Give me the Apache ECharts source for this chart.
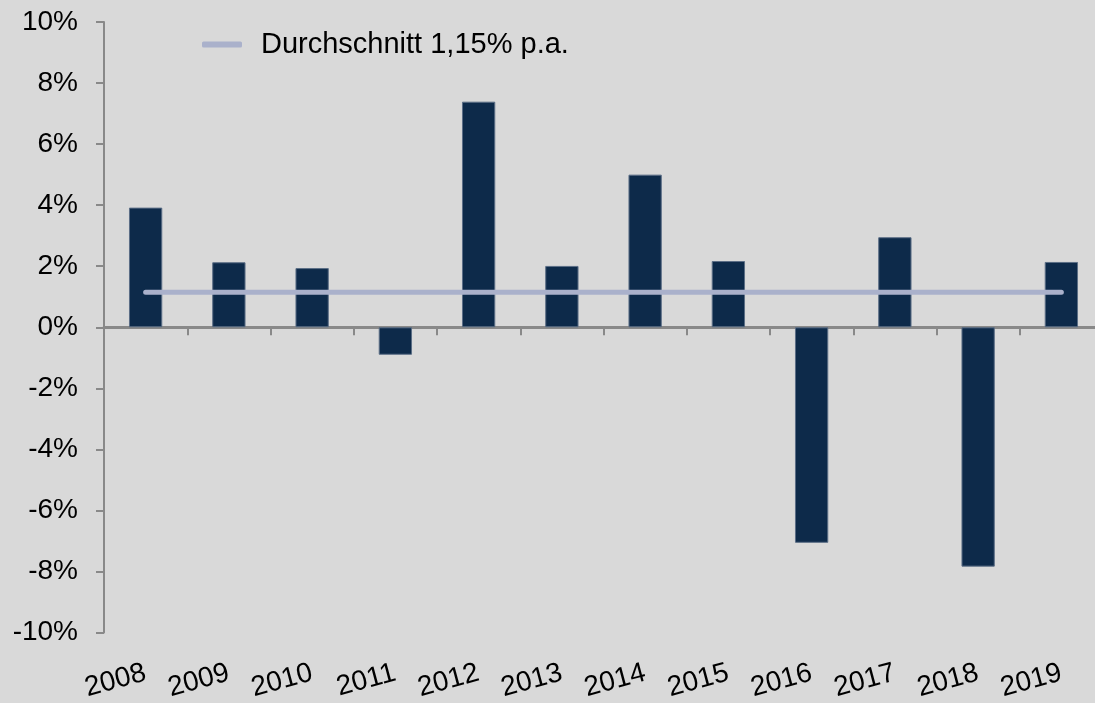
<!DOCTYPE html>
<html style="height: 100%">

<head>
  <meta charset="utf-8">
</head>

<body style="height: 100%; margin: 0; background: #d9d9d9; overflow: hidden">
  <!-- etwas breiter als das Fenster: die letzte Kategorie ragt in der Vorlage leicht über den Rand -->
  <div id="container" style="width: 1103px; height: 703px"></div>
  <script type="text/javascript" src="https://cdn.jsdelivr.net/npm/echarts@6/dist/echarts.min.js"></script>
  <script type="text/javascript">
    // Jahre und jährliche Rendite in %
    var years = ['2008', '2009', '2010', '2011', '2012', '2013', '2014', '2015', '2016', '2017', '2018', '2019'];
    var returns = [3.92, 2.13, 1.94, -0.90, 7.39, 2.01, 5.00, 2.17, -7.06, 2.95, -7.84, 2.14];
    // Durchschnittslinie (1,15% p.a.) für jedes Jahr
    var average = [1.15, 1.15, 1.15, 1.15, 1.15, 1.15, 1.15, 1.15, 1.15, 1.15, 1.15, 1.15];
    var yTicks = { min: -10, max: 10, interval: 2 };

    var axisGrey = '#898989';
    var font = 'Liberation Sans, Arial, sans-serif';

    var dom = document.getElementById("container");
    var myChart = echarts.init(dom);

    var option = {
      backgroundColor: '#d9d9d9',
      animation: false,
      textStyle: { fontFamily: font, color: '#000' },
      legend: {
        left: 197,
        top: 25,
        icon: 'roundRect',
        itemWidth: 40,
        itemHeight: 6,
        data: ['Durchschnitt 1,15% p.a.'],
        textStyle: {
          fontFamily: font,
          fontSize: 29,
          color: '#000',
          padding: [0, 0, 0, 14]
        }
      },
      grid: {
        left: 104,
        right: 0,
        top: 22,
        bottom: 69
      },
      xAxis: [{
        // Achse auf der Nulllinie, nur Linie und Striche
        type: 'category',
        data: years,
        axisLine: { onZero: true, lineStyle: { color: axisGrey, width: 3 } },
        axisTick: { show: true, length: 8, lineStyle: { color: axisGrey, width: 2 } },
        axisLabel: { show: false },
        splitLine: { show: false }
      }, {
        // Beschriftung unten
        type: 'category',
        position: 'bottom',
        data: years,
        axisLine: { show: false },
        axisTick: { show: false },
        axisLabel: {
          interval: 0,
          hideOverlap: false,
          rotate: 15,
          margin: 40,
          fontSize: 28,
          fontFamily: font,
          color: '#000'
        }
      }],
      yAxis: {
        type: 'value',
        min: yTicks.min,
        max: yTicks.max,
        interval: yTicks.interval,
        axisLine: { show: true, lineStyle: { color: axisGrey, width: 2 } },
        axisTick: { show: true, length: 8, lineStyle: { color: axisGrey, width: 2 } },
        axisLabel: {
          margin: 26,
          fontSize: 28,
          fontFamily: font,
          color: '#000',
          formatter: '{value}%'
        },
        splitLine: { show: false }
      },
      series: [{
        name: 'Rendite',
        type: 'bar',
        data: returns,
        barCategoryGap: '60%',
        itemStyle: {
          color: '#0d2a4a',
          borderColor: '#5b6e86',
          borderWidth: 1
        }
      }, {
        name: 'Durchschnitt 1,15% p.a.',
        type: 'line',
        data: average,
        symbol: 'none',
        z: 5,
        itemStyle: { color: '#aab1cb' },
        lineStyle: { color: '#aab1cb', width: 5, cap: 'round' }
      }]
    };
    myChart.setOption(option);
  </script>
</body>

</html>
